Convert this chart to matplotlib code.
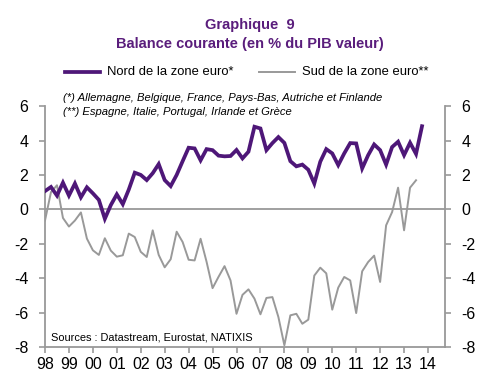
import matplotlib
matplotlib.use("Agg")
import matplotlib.pyplot as plt
from matplotlib.lines import Line2D

plt.rcParams['font.family'] = ['Liberation Sans', 'DejaVu Sans']

nord = [1.06, 1.3, 0.8, 1.55, 0.8, 1.5, 0.7, 1.28, 0.93, 0.55,
        -0.55, 0.25, 0.87, 0.3, 1.15, 2.13, 2.0, 1.7, 2.1, 2.63,
        1.7, 1.35, 2.0, 2.8, 3.58, 3.54, 2.85, 3.5, 3.44, 3.12,
        3.08, 3.1, 3.45, 2.96, 3.35, 4.8, 4.7, 3.44, 3.85, 4.2,
        3.86, 2.8, 2.5, 2.6, 2.3, 1.5, 2.77, 3.5, 3.25, 2.57,
        3.25, 3.85, 3.83, 2.38, 3.15, 3.77, 3.44, 2.6, 3.62, 3.93,
        3.15, 3.87, 3.22, 4.83]
sud = [-0.65, 1.0, 1.4, -0.5, -1.0, -0.65, -0.18, -1.7, -2.38, -2.65,
       -1.68, -2.4, -2.75, -2.67, -1.41, -1.61, -2.47, -2.77, -1.22, -2.65,
       -3.37, -2.9, -1.3, -1.9, -2.93, -2.97, -1.71, -3.05, -4.58, -3.92,
       -3.3, -4.13, -6.07, -4.97, -4.65, -5.19, -6.1, -5.15, -5.1, -6.26,
       -7.9, -6.16, -6.07, -6.65, -6.41, -3.85, -3.39, -3.72, -5.83, -4.55,
       -3.93, -4.13, -6.03, -3.6, -3.06, -2.69, -4.22, -0.93, -0.16, 1.26,
       -1.22, 1.26, 1.69]
start_year = 1998
years = list(range(1998, 2015))
year_labels = ['98', '99', '00', '01', '02', '03', '04', '05', '06', '07',
               '08', '09', '10', '11', '12', '13', '14']
yticks = [-8, -6, -4, -2, 0, 2, 4, 6]

purple = '#4e1778'
grey = '#999999'
title_col = '#5a1d7c'

x_nord = [start_year + i / 4 for i in range(len(nord))]
x_sud = [start_year + i / 4 for i in range(len(sud))]

fig = plt.figure(figsize=(5.0, 3.83), dpi=100)
ax = fig.add_axes([0.09, 0.094, 0.80, 0.629])

ax.axhline(0, color=grey, lw=1.3, zorder=1)
ax.plot(x_sud, sud, color=grey, lw=1.4, zorder=2)
ax.plot(x_nord, nord, color=purple, lw=2.7, zorder=3, solid_joinstyle='miter')

ax.set_xlim(1998, 2014.71)
ax.set_ylim(-8, 6)
ax.set_xticks(years)
ax.set_xticklabels(year_labels)
ax.set_yticks(yticks)
ax.set_yticklabels([str(v) for v in yticks])

ax.spines['top'].set_visible(False)
for s in ['left', 'right', 'bottom']:
    ax.spines[s].set_color(grey)
    ax.spines[s].set_linewidth(1.3)

ax.tick_params(axis='x', direction='out', length=4, width=1.2, color=grey,
               labelsize=11.5, pad=3)
ax.tick_params(axis='y', direction='out', length=4, width=1.2, color=grey,
               labelsize=11.5, left=True, right=True, labelleft=True, labelright=True, pad=8)

fig.text(0.5, 1 - 25 / 383, 'Graphique  9', ha='center', va='center',
         fontsize=10.5, fontweight='bold', color=title_col)
fig.text(0.5, 1 - 44 / 383, 'Balance courante (en % du PIB valeur)', ha='center', va='center',
         fontsize=10.5, fontweight='bold', color=title_col)

# legend
fig.add_artist(Line2D([65 / 500, 100 / 500], [1 - 72 / 383] * 2, color=purple, lw=2.7))
fig.text(107 / 500, 1 - 72 / 383, 'Nord de la zone euro*', ha='left', va='center', fontsize=9.4)
fig.add_artist(Line2D([259 / 500, 295 / 500], [1 - 72 / 383] * 2, color=grey, lw=1.4))
fig.text(302 / 500, 1 - 72 / 383, 'Sud de la zone euro**', ha='left', va='center', fontsize=9.4)

fig.text(63 / 500, 1 - 98 / 383, '(*) Allemagne, Belgique, France, Pays-Bas, Autriche et Finlande',
         ha='left', va='center', fontsize=8.1, style='italic')
fig.text(63 / 500, 1 - 112 / 383, '(**) Espagne, Italie, Portugal, Irlande et Grèce',
         ha='left', va='center', fontsize=8.1, style='italic')
fig.text(51 / 500, 1 - 337 / 383, 'Sources : Datastream, Eurostat, NATIXIS',
         ha='left', va='center', fontsize=7.9)

fig.savefig('out.png', dpi=100)
